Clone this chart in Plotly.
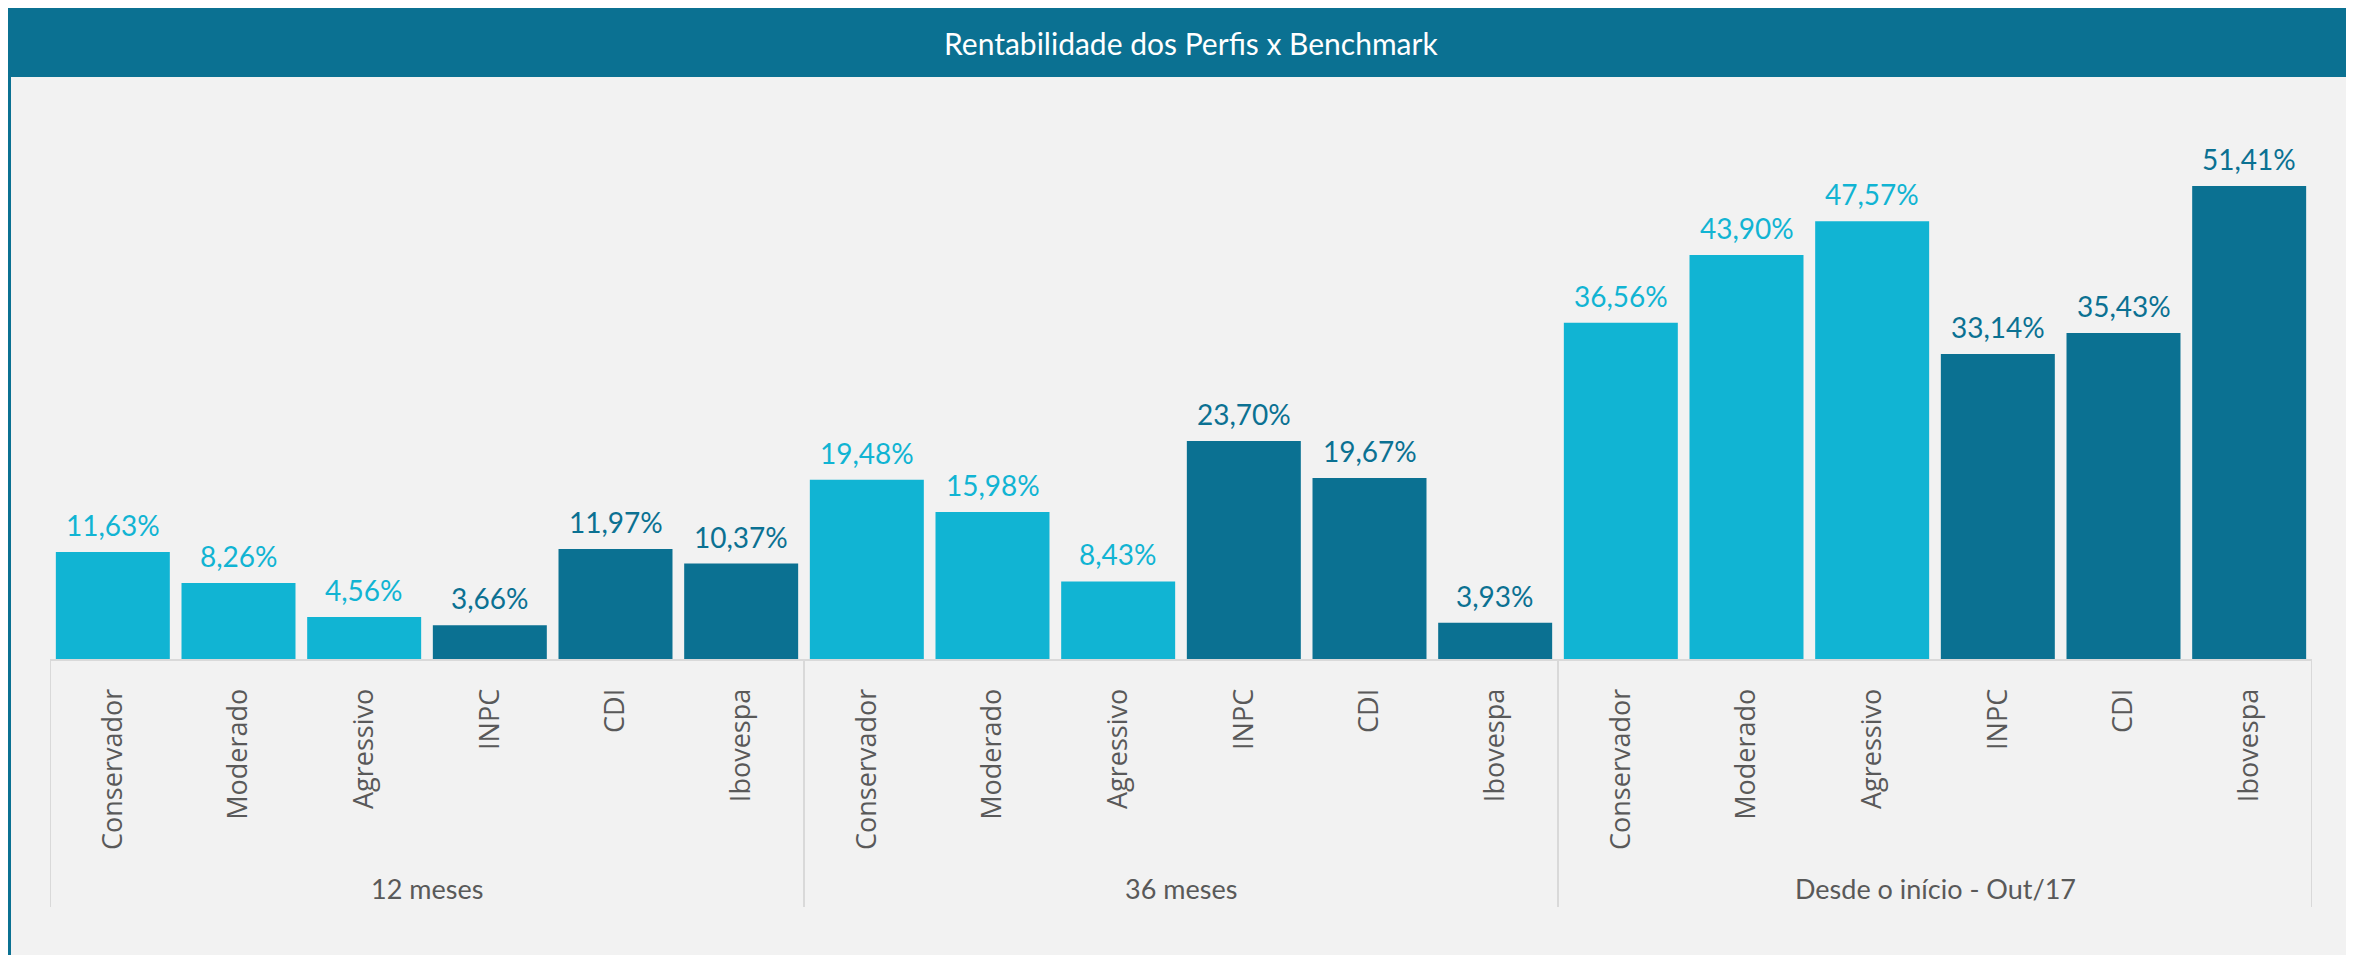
import plotly.graph_objects as go

groups = ["12 meses", "36 meses", "Desde o início - Out/17"]
categories = ["Conservador", "Moderado", "Agressivo", "INPC", "CDI", "Ibovespa"]
vals_12m = [11.63, 8.26, 4.56, 3.66, 11.97, 10.37]
vals_36m = [19.48, 15.98, 8.43, 23.70, 19.67, 3.93]
vals_inicio = [36.56, 43.90, 47.57, 33.14, 35.43, 51.41]
title_text = "Rentabilidade dos Perfis x Benchmark"

CYAN = "#11B4D3"
DARK = "#0B7192"
BG = "#F2F2F2"
GRID = "#D9D9D9"
TXT = "#595959"

W, H = 2354, 955
OFF = 8  # default page body margin in the browser
# target screen geometry
SX0, SX1, SBASE, STOP = 50, 2312, 659, 100
L = SX0 - OFF
R = W - (SX1 - OFF)
T = STOP - OFF
B = H - (SBASE - OFF)
plot_h = H - T - B
plot_w = W - L - R

all_vals = vals_12m + vals_36m + vals_inicio
n_cat = len(categories)
xs = list(range(len(all_vals)))
tick_text = categories * len(groups)
colors = [CYAN if (i % n_cat) < 3 else DARK for i in xs]

fig = go.Figure(go.Bar(
    x=xs, y=all_vals, marker=dict(color=colors, line=dict(width=0)),
    hoverinfo="skip",
))

def py(sy):  # screen pixel y -> paper y
    return (SBASE - sy) / plot_h

def pxx(sx):  # screen pixel x -> paper x
    return (sx - SX0) / plot_w

annotations = []
for i, v in enumerate(all_vals):
    annotations.append(dict(
        x=i, y=v, xref="x", yref="y", text=f"{v:.2f}".replace(".", ",") + "%",
        showarrow=False, yanchor="bottom", yshift=8,
        font=dict(family="Lato", size=28, color=colors[i]),
    ))
for g, name in enumerate(groups):
    annotations.append(dict(
        x=g * n_cat + (n_cat - 1) / 2, y=py(888), xref="x", yref="paper",
        text=name, showarrow=False, yanchor="middle",
        font=dict(family="Lato", size=27, color=TXT),
    ))
annotations.append(dict(
    x=pxx(1191), y=py(43), xref="paper", yref="paper", text=title_text,
    showarrow=False, xanchor="center", yanchor="middle",
    font=dict(family="Lato", size=30, color="white"),
))

shapes = []
# title bar
shapes.append(dict(type="rect", xref="paper", yref="paper",
                   x0=pxx(5), x1=pxx(2370), y0=py(77), y1=py(8),
                   fillcolor=DARK, line=dict(width=0), layer="below"))
shapes.append(dict(type="line", xref="paper", yref="paper",
                   x0=pxx(5), x1=pxx(2370), y0=py(7), y1=py(7),
                   line=dict(color="#DADADA", width=1.5)))
# left border
shapes.append(dict(type="line", xref="paper", yref="paper",
                   x0=pxx(9.5), x1=pxx(9.5), y0=py(77), y1=py(970),
                   line=dict(color=DARK, width=3)))
# group dividers
for g in range(len(groups) + 1):
    xd = g * n_cat - 0.5
    shapes.append(dict(type="line", xref="x", yref="paper",
                       x0=xd, x1=xd, y0=0, y1=py(907),
                       line=dict(color=GRID, width=2)))

fig.update_layout(
    width=W, height=H,
    margin=dict(l=L, r=R, t=T, b=B, autoexpand=False),
    paper_bgcolor=BG, plot_bgcolor=BG,
    bargap=0.093, showlegend=False,
    annotations=annotations, shapes=shapes,
    xaxis=dict(
        range=[-0.5, len(all_vals) - 0.5], tickmode="array", tickvals=xs,
        ticktext=tick_text, tickangle=-90, showgrid=False, zeroline=False,
        showline=True, linecolor=GRID, linewidth=2, ticks="",
        ticklabelstandoff=17,
        tickfont=dict(family="Open Sans", size=27, color=TXT),
        fixedrange=True,
    ),
    yaxis=dict(range=[0, plot_h / 9.2], visible=False, fixedrange=True),
)

fig.write_html("out.html", config={"displayModeBar": False})
